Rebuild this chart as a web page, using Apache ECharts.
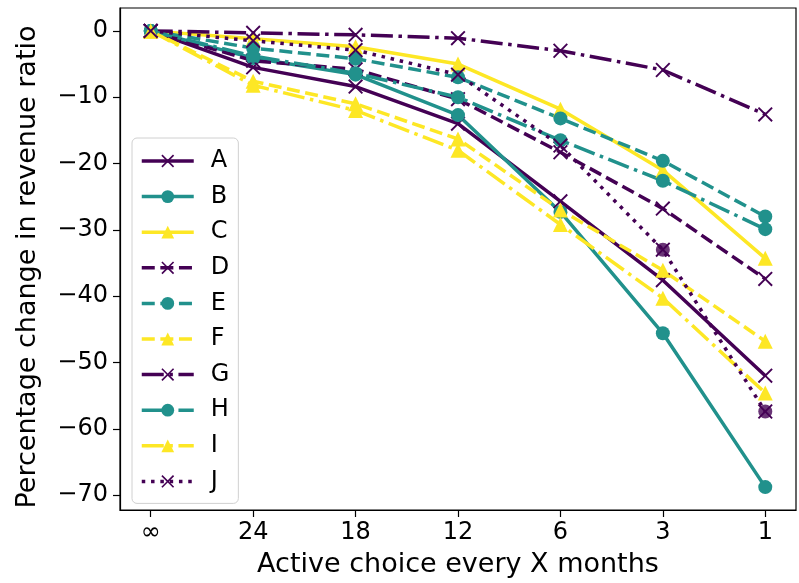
<!DOCTYPE html>
<html>
<head>
<meta charset="utf-8">
<script src="https://cdn.jsdelivr.net/npm/echarts@6/dist/echarts.min.js"></script>
<style>
html, body { margin: 0; padding: 0; background: #fff; }
#chart { width: 799px; height: 583px; }
</style>
</head>
<body>
<div id="chart"></div>
<script>
// categories on the x axis (months between active choices)
var categories = ['∞', '24', '18', '12', '6', '3', '1'];
var yTicks = [0, -10, -20, -30, -40, -50, -60, -70];

// percentage change per scenario
var seriesA = [0, -5.5, -8.4, -14.0, -25.7, -37.6, -52.0];
var seriesB = [0, -4.1, -6.6, -12.7, -27.3, -45.6, -68.8];
var seriesC = [0, -1.2, -2.4, -5.0, -11.8, -21.0, -34.3];
var seriesD = [0, -4.5, -5.8, -10.3, -18.3, -26.8, -37.4];
var seriesE = [0, -2.6, -4.2, -7.0, -13.2, -19.6, -28.0];
var seriesF = [0, -7.6, -11.0, -16.3, -27.0, -36.1, -46.8];
var seriesG = [0, -0.3, -0.6, -1.1, -3.0, -5.9, -12.6];
var seriesH = [0, -3.8, -6.4, -10.0, -16.5, -22.6, -29.9];
var seriesI = [0, -8.2, -12.0, -18.0, -29.2, -40.3, -54.6];
var seriesJ = [0, -1.5, -2.9, -6.6, -17.3, -33.0, -57.4];
// extra round markers drawn on top of J at "3" and "1"
var jDotsIdx = [5, 6];
var jDotsVal = [-33.0, -57.4];

var purple = '#440154', teal = '#21918c', yellow = '#fde725';
var FONT = 'DejaVu Sans';

// x marker as a filled cross outline
var crossPath = 'path://M0,1.8L1.8,0L10,8.2L18.2,0L20,1.8L11.8,10L20,18.2L18.2,20L10,11.8L1.8,20L0,18.2L8.2,10Z';

var lw = 3.5;
var dashes = {
  solid: 'solid',
  dashed: [13, 5.6],
  dashdot: [22, 5.6, 3.5, 5.6],
  dotted: [3.5, 5.8]
};

function toXY(arr) {
  var out = [];
  for (var i = 0; i < arr.length; i++) out.push([i, arr[i]]);
  return out;
}

function mk(name, arr, color, marker, style) {
  var sym = marker === 'x' ? crossPath : (marker === 'o' ? 'circle' : 'triangle');
  return {
    name: name,
    type: 'line',
    data: toXY(arr),
    symbol: sym,
    symbolSize: marker === 'o' ? 14 : 15,
    showAllSymbol: true,
    lineStyle: { color: color, width: lw, type: dashes[style] },
    itemStyle: { color: color },
    emphasis: { disabled: true },
    animation: false
  };
}

var jDots = [];
for (var k = 0; k < jDotsIdx.length; k++) jDots.push([jDotsIdx[k], jDotsVal[k]]);

var myChart = echarts.init(document.getElementById('chart'), null, { renderer: 'canvas' });

option = {
  backgroundColor: '#fff',
  animation: false,
  textStyle: { fontFamily: FONT },
  grid: {
    left: 120, right: 3, top: 8, bottom: 69,
    show: true, borderColor: '#000', borderWidth: 1.2, backgroundColor: 'transparent'
  },
  legend: {
    orient: 'vertical',
    left: 132, top: 138,
    data: ['A', 'B', 'C', 'D', 'E', 'F', 'G', 'H', 'I', 'J'],
    itemWidth: 52, itemHeight: 16,
    itemGap: 7.6,
    padding: [9, 9, 8, 8],
    borderColor: '#d0d0d0', borderWidth: 1, borderRadius: 5,
    backgroundColor: 'rgba(255,255,255,0.8)',
    lineStyle: { width: 3.5 },
    textStyle: { fontFamily: FONT, fontSize: 24, color: '#000', lineHeight: 28, padding: [0, 0, 0, 12] }
  },
  xAxis: {
    type: 'value',
    min: -0.3, max: 6.3,
    name: 'Active choice every X months',
    nameLocation: 'middle',
    nameGap: 41,
    nameTextStyle: { fontFamily: FONT, fontSize: 27, color: '#000' },
    axisLine: { onZero: false, lineStyle: { color: '#000', width: 1.2 } },
    axisTick: { show: true, inside: false, length: 7, customValues: [0, 1, 2, 3, 4, 5, 6], lineStyle: { color: '#000', width: 1.2 } },
    axisLabel: {
      customValues: [0, 1, 2, 3, 4, 5, 6],
      margin: 11,
      fontFamily: FONT, fontSize: 24, color: '#000',
      formatter: function (v) { return categories[Math.round(v)]; }
    },
    splitLine: { show: false }
  },
  yAxis: {
    type: 'value',
    min: -72.25, max: 3.45,
    name: 'Percentage change in revenue ratio',
    nameLocation: 'middle',
    nameGap: 79,
    nameTextStyle: { fontFamily: FONT, fontSize: 27, color: '#000', padding: [0, 16, 0, 0] },
    axisLine: { show: true, onZero: false, lineStyle: { color: '#000', width: 1.2 } },
    axisTick: { show: true, inside: false, length: 7, customValues: yTicks, lineStyle: { color: '#000', width: 1.2 } },
    axisLabel: {
      customValues: yTicks,
      margin: 12,
      fontFamily: FONT, fontSize: 24, color: '#000',
      formatter: function (v) { return v < 0 ? '\u2212' + Math.abs(v) : String(v); }
    },
    splitLine: { show: false }
  },
  series: [
    mk('A', seriesA, purple, 'x', 'solid'),
    mk('B', seriesB, teal, 'o', 'solid'),
    mk('C', seriesC, yellow, '^', 'solid'),
    mk('D', seriesD, purple, 'x', 'dashed'),
    mk('E', seriesE, teal, 'o', 'dashed'),
    mk('F', seriesF, yellow, '^', 'dashed'),
    mk('G', seriesG, purple, 'x', 'dashdot'),
    mk('H', seriesH, teal, 'o', 'dashdot'),
    mk('I', seriesI, yellow, '^', 'dashdot'),
    mk('J', seriesJ, purple, 'x', 'dotted'),
    {
      name: 'Jdots',
      type: 'scatter',
      data: jDots,
      symbol: 'circle',
      symbolSize: 14,
      itemStyle: { color: purple },
      z: 1,
      animation: false
    }
  ]
};
myChart.setOption(option);
</script>
</body>
</html>
